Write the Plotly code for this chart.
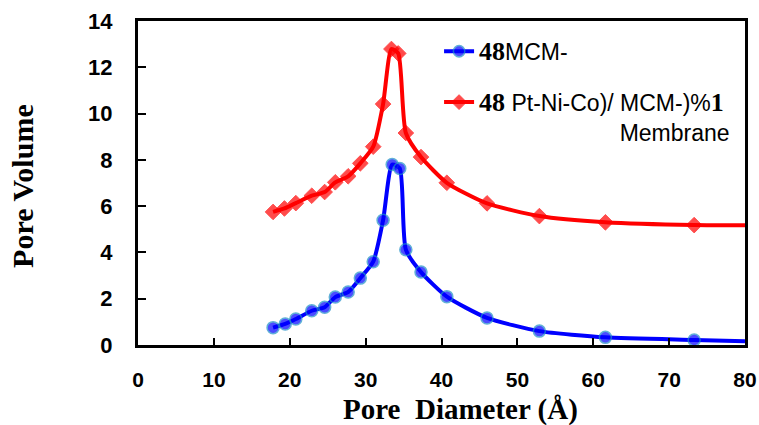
import plotly.graph_objects as go

# Pore diameter (Å) and pore volume
x_mcm = [17.8, 19.4, 20.8, 22.9, 24.6, 26.0, 27.7, 29.3, 31.0, 32.3, 33.5, 34.5, 35.3, 37.3, 40.7, 46.0, 52.9, 61.6, 73.3, 80.0]
y_mcm = [0.75, 0.91, 1.12, 1.48, 1.63, 2.07, 2.29, 2.89, 3.60, 5.39, 7.80, 7.63, 4.12, 3.15, 2.09, 1.17, 0.60, 0.33, 0.22, 0.16]

x_mem = [17.8, 19.3, 20.8, 22.9, 24.6, 26.0, 27.7, 29.3, 31.0, 32.3, 33.4, 34.3, 35.3, 37.3, 40.7, 46.0, 52.9, 61.6, 73.3, 80.0]
y_mem = [5.75, 5.90, 6.13, 6.45, 6.61, 7.03, 7.29, 7.85, 8.57, 10.41, 12.79, 12.60, 9.16, 8.12, 7.01, 6.12, 5.57, 5.30, 5.18, 5.17]

x_ticks = [0, 10, 20, 30, 40, 50, 60, 70, 80]
y_ticks = [0, 2, 4, 6, 8, 10, 12, 14]

serif_b = '<span style="font-family:Liberation Serif;font-size:26px"><b>{}</b></span>'
name_mcm = serif_b.format('48') + 'MCM-'
name_mem = (serif_b.format('48') + ' Pt-Ni-Co)/ MCM-)%' + serif_b.format('1')
            + '<br>' + '\u00a0' * 22 + 'Membrane')

msize_mcm = [12] * (len(x_mcm) - 1) + [0]
msize_mem = [12] * (len(x_mem) - 1) + [0]

fig = go.Figure()
fig.add_trace(go.Scatter(
    x=x_mcm, y=y_mcm, mode='lines+markers', name=name_mcm, legendgroup='a',
    line=dict(color='#0000FF', width=4, shape='spline', smoothing=0.6),
    marker=dict(symbol='circle', size=msize_mcm, color='#0000FF',
                line=dict(color='#1E90C8', width=1.5)),
))
fig.add_trace(go.Scatter(
    x=x_mem, y=y_mem, mode='lines+markers', name=name_mem, legendgroup='b',
    line=dict(color='#FF0000', width=4, shape='spline', smoothing=0.6),
    marker=dict(symbol='diamond', size=msize_mem, color='#FF0000',
                line=dict(color='#FF0000', width=1)),
))

fig.update_layout(
    width=759, height=425,
    margin=dict(l=138, r=14, t=21, b=80),
    paper_bgcolor='white', plot_bgcolor='white',
    font=dict(family='Liberation Sans', color='black'),
    showlegend=True,
    legend=dict(x=0.496, y=0.973, xanchor='left', yanchor='top',
                bgcolor='rgba(0,0,0,0)', valign='top', tracegroupgap=18,
                font=dict(family='Liberation Sans', size=23, color='black')),
    annotations=[
        dict(text='<b>Pore  Diameter (Å)</b>', xref='paper', yref='paper',
             x=0.532, y=-0.199, xanchor='center', yanchor='middle', showarrow=False,
             font=dict(family='Liberation Serif', size=29, color='black')),
        dict(text='<b>Pore Volume</b>', xref='paper', yref='paper',
             x=-0.19, y=0.49, xanchor='center', yanchor='middle', showarrow=False,
             textangle=-90,
             font=dict(family='Liberation Serif', size=30, color='black')),
    ],
)
fig.update_xaxes(
    range=[0, 80], tickvals=x_ticks, ticktext=[str(v) for v in x_ticks],
    showgrid=False, zeroline=False, automargin=False,
    showline=True, linecolor='black', linewidth=3, mirror=True,
    ticks='inside', ticklen=7, tickwidth=2, tickcolor='black',
    ticklabelstandoff=14,
    tickfont=dict(family='Liberation Sans', size=21, color='black', weight='bold'),
)
fig.update_yaxes(
    range=[0, 14], tickvals=y_ticks, ticktext=[str(v) for v in y_ticks],
    showgrid=False, zeroline=False, automargin=False,
    showline=True, linecolor='black', linewidth=3, mirror=True,
    ticks='inside', ticklen=8, tickwidth=2, tickcolor='black',
    ticklabelstandoff=18,
    tickfont=dict(family='Liberation Sans', size=22, color='black', weight='bold'),
)

fig.write_html("out.html", config={'displayModeBar': False},
               post_script="document.body.style.margin='0';")
